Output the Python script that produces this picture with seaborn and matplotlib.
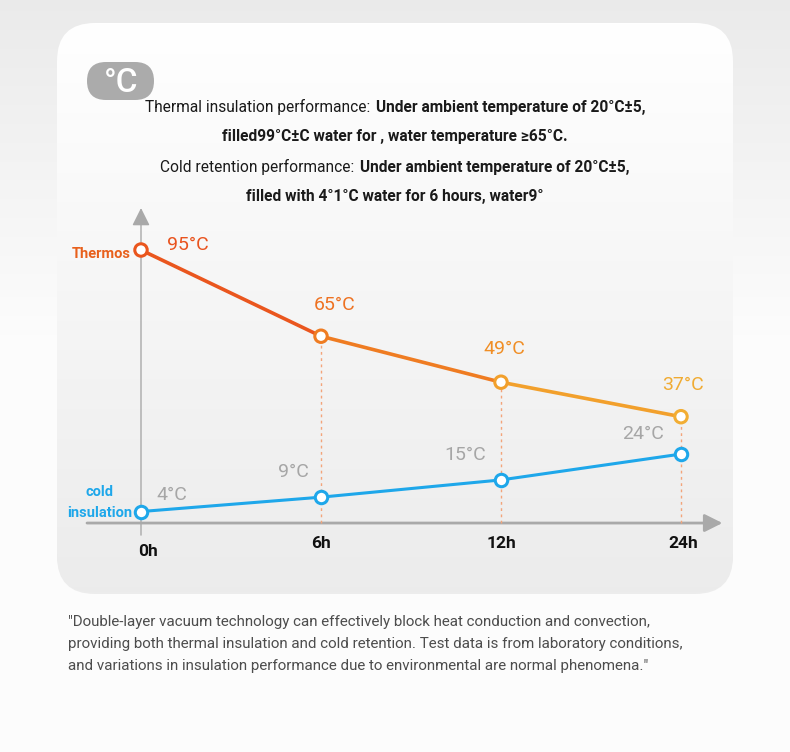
import numpy as np
import matplotlib
matplotlib.use("Agg")
import matplotlib.pyplot as plt
import seaborn as sns
from matplotlib.patches import FancyBboxPatch
from matplotlib.offsetbox import TextArea, HPacker, AnnotationBbox

# data
hours = ["0h", "6h", "12h", "24h"]
thermos_temp = [95, 65, 49, 37]
cold_temp = [4, 9, 15, 24]
thermos_labels = ["95°C", "65°C", "49°C", "37°C"]
cold_labels = ["4°C", "9°C", "15°C", "24°C"]

header_lines = [
    ("Thermal insulation performance:", "Under ambient temperature of 20°C±5,"),
    ("", "filled99°C±C water for , water temperature ≥65°C."),
    ("Cold retention performance:", "Under ambient temperature of 20°C±5,"),
    ("", "filled with 4°1°C water for 6 hours, water9°"),
]
footer_lines = [
    '"Double-layer vacuum technology can effectively block heat conduction and convection,',
    "providing both thermal insulation and cold retention. Test data is from laboratory conditions,",
    'and variations in insulation performance due to environmental are normal phenomena."',
]

# style
thermos_seg_colors = ["#ea561e", "#ef7c22", "#f2a02c"]
thermos_txt_colors = ["#e9531e", "#ee7222", "#f08e25", "#f0ab32"]
cold_color = "#1ea7ea"
cold_txt = "#a6a6a6"
hot_offsets = [(47, 5), (14, 31), (3, 33), (2, 32)]
cold_offsets = [(31, 17), (-28, 25), (-36, 25), (-38, 20)]

sns.set_theme(style="white")
plt.rcParams["font.family"] = ["Roboto", "DejaVu Sans"]

W, H = 790, 752
fig = plt.figure(figsize=(W / 100, H / 100), dpi=100)

# background in pixel coordinates
bg = fig.add_axes([0, 0, 1, 1], zorder=-2)
bg.set_xlim(0, W)
bg.set_ylim(H, 0)
bg.axis("off")

page = np.linspace(0, 1, 200).reshape(-1, 1)
page = np.clip(page * 2.2, 0, 1)
page_rgb = np.dstack([0.92 + 0.07 * page] * 3)
bg.imshow(page_rgb, extent=(0, W, H, 0), aspect="auto", zorder=0)

shadow = FancyBboxPatch((57, 25), 676, 569, boxstyle="round,pad=0,rounding_size=38",
                        facecolor="#e2e2e2", edgecolor="none", alpha=0.6, zorder=1)
bg.add_patch(shadow)
card = FancyBboxPatch((57, 23), 676, 569, boxstyle="round,pad=0,rounding_size=38",
                      facecolor="none", edgecolor="none", zorder=2)
bg.add_patch(card)
grad = np.linspace(0, 1, 200).reshape(-1, 1)
card_rgb = np.dstack([1.0 - 0.075 * grad] * 3)
im = bg.imshow(card_rgb, extent=(57, 733, 592, 23), aspect="auto", zorder=2)
im.set_clip_path(card)

badge = FancyBboxPatch((87, 62), 67, 38, boxstyle="round,pad=0,rounding_size=19",
                       facecolor="#ababab", edgecolor="none", zorder=3)
bg.add_patch(badge)
bg.text(121, 83, "°C", color="white", fontsize=24, fontweight="medium",
        ha="center", va="center", zorder=4)

# header lines with mixed weights
for i, (normal, bold) in enumerate(header_lines):
    parts = []
    if normal:
        parts.append(TextArea(normal, textprops=dict(fontsize=11.2, color="#1a1a1a")))
    parts.append(TextArea(bold, textprops=dict(fontsize=11.2, color="#1a1a1a", fontweight="bold")))
    pack = HPacker(children=parts, sep=4, pad=0, align="baseline")
    ab = AnnotationBbox(pack, (395, 107 + 30 * i), xycoords="data", frameon=False,
                        box_alignment=(0.5, 0.5), zorder=5)
    bg.add_artist(ab)

for i, line in enumerate(footer_lines):
    bg.text(68, 622 + 22 * i, line, fontsize=10.9, color="#4d4d4d",
            ha="left", va="center", zorder=5)

# series labels
bg.text(131, 254, "Thermos", color="#e8601c", fontsize=10.5, fontweight="bold",
        ha="right", va="center", zorder=5)
bg.text(100, 492, "cold", color=cold_color, fontsize=10.5, fontweight="bold",
        ha="center", va="center", zorder=5)
bg.text(100, 513, "insulation", color=cold_color, fontsize=10.5, fontweight="bold",
        ha="center", va="center", zorder=5)

# main chart axes
ax = fig.add_axes([78 / W, 1 - 590 / H, 657 / W, 390 / H])
ax.patch.set_alpha(0)
x = np.arange(len(hours))
ax.set_xlim(-0.35, 3.3)
ax.set_ylim(-23.3, 112.4)
for s in ax.spines.values():
    s.set_visible(False)
ax.set_xticks([])
ax.set_yticks([])

# axes arrows
ax.annotate("", xy=(3.23, 0), xytext=(-0.3, 0),
            arrowprops=dict(arrowstyle="-|>,head_length=0.9,head_width=0.45",
                            color="#a9a9a9", lw=2, shrinkA=0, shrinkB=0), zorder=1)
ax.annotate("", xy=(0, 109.6), xytext=(0, -4.2),
            arrowprops=dict(arrowstyle="-|>,head_length=0.9,head_width=0.45",
                            color="#a9a9a9", lw=1, shrinkA=0, shrinkB=0), zorder=1)

# dotted guides
for xi, t in zip(x[1:], thermos_temp[1:]):
    ax.plot([xi, xi], [0, t], color="#f3a47a", lw=1, ls=(0, (2, 2.5)), zorder=2)

# thermos line in segments for colour shift
for i in range(len(x) - 1):
    sns.lineplot(x=x[i:i + 2], y=thermos_temp[i:i + 2], color=thermos_seg_colors[i],
                 lw=2.6, ax=ax, zorder=3)
sns.lineplot(x=x, y=cold_temp, color=cold_color, lw=2.2, ax=ax, zorder=3)

hot_mk = [thermos_seg_colors[0], thermos_seg_colors[1], thermos_seg_colors[2], "#f2ad33"]
ax.scatter(x, thermos_temp, s=80, facecolor="white", edgecolor=hot_mk, linewidth=2.2, zorder=4)
ax.scatter(x, cold_temp, s=80, facecolor="white", edgecolor=cold_color, linewidth=2.2, zorder=4)

for xi, t, lab, c, off in zip(x, thermos_temp, thermos_labels, thermos_txt_colors, hot_offsets):
    ax.annotate(lab, (xi, t), xytext=off, textcoords="offset pixels", color=c,
                fontsize=14, ha="center", va="center")
for xi, t, lab, off in zip(x, cold_temp, cold_labels, cold_offsets):
    ax.annotate(lab, (xi, t), xytext=off, textcoords="offset pixels", color=cold_txt,
                fontsize=14, ha="center", va="center")

tick_offsets = [(7, -28), (0, -20), (0, -20), (2, -20)]
for xi, lab, off in zip(x, hours, tick_offsets):
    ax.annotate(lab, (xi, 0), xytext=off, textcoords="offset pixels", color="#111111",
                fontsize=12.5, fontweight="bold", ha="center", va="center")

fig.savefig("out.png", dpi=100)
